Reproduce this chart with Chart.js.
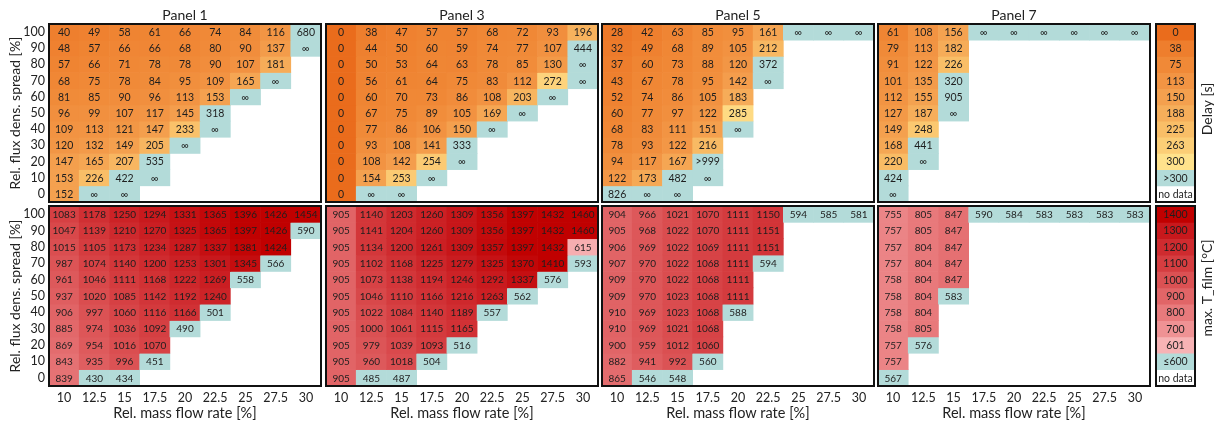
<!DOCTYPE html>
<html>
<head>
<meta charset="utf-8">
<script src="https://cdn.jsdelivr.net/npm/chart.js@4.4.1/dist/chart.umd.min.js"></script>
<style>
  html, body { margin: 0; padding: 0; background: #fff; }
  #wrap { position: relative; width: 1220px; height: 426px; overflow: hidden; background: #fff; }
  #wrap canvas { position: absolute; }
</style>
</head>
<body>
<div id="wrap"></div>
<script>
// ---- data -------------------------------------------------------------
const massFlowRate = ['10', '12.5', '15', '17.5', '20', '22.5', '25', '27.5', '30'];
const fluxSpread = [100, 90, 80, 70, 60, 50, 40, 30, 20, 10, 0];
const panelTitles = ['Panel 1', 'Panel 3', 'Panel 5', 'Panel 7'];

const INF = Infinity;   // printed as "∞"
const OVER = 1000;      // printed as ">999"
const _ = null;         // no data

// Delay [s], rows = flux spread 100..0, columns = mass flow rate 10..30
const delay1 = [
  [40, 49, 58, 61, 66, 74, 84, 116, 680],
  [48, 57, 66, 66, 68, 80, 90, 137, INF],
  [57, 66, 71, 78, 78, 90, 107, 181, _],
  [68, 75, 78, 84, 95, 109, 165, INF, _],
  [81, 85, 90, 96, 113, 153, INF, _, _],
  [96, 99, 107, 117, 145, 318, _, _, _],
  [109, 113, 121, 147, 233, INF, _, _, _],
  [120, 132, 149, 205, INF, _, _, _, _],
  [147, 165, 207, 535, _, _, _, _, _],
  [153, 226, 422, INF, _, _, _, _, _],
  [152, INF, INF, _, _, _, _, _, _]
];
const delay3 = [
  [0, 38, 47, 57, 57, 68, 72, 93, 196],
  [0, 44, 50, 60, 59, 74, 77, 107, 444],
  [0, 50, 53, 64, 63, 78, 85, 130, INF],
  [0, 56, 61, 64, 75, 83, 112, 272, INF],
  [0, 60, 70, 73, 86, 108, 203, INF, _],
  [0, 67, 75, 89, 105, 169, INF, _, _],
  [0, 77, 86, 106, 150, INF, _, _, _],
  [0, 93, 108, 141, 333, _, _, _, _],
  [0, 108, 142, 254, INF, _, _, _, _],
  [0, 154, 253, INF, _, _, _, _, _],
  [0, INF, INF, _, _, _, _, _, _]
];
const delay5 = [
  [28, 42, 63, 85, 95, 161, INF, INF, INF],
  [32, 49, 68, 89, 105, 212, _, _, _],
  [37, 60, 73, 88, 120, 372, _, _, _],
  [43, 67, 78, 95, 142, INF, _, _, _],
  [52, 74, 86, 105, 183, _, _, _, _],
  [60, 77, 97, 122, 285, _, _, _, _],
  [68, 83, 111, 151, INF, _, _, _, _],
  [78, 93, 122, 216, _, _, _, _, _],
  [94, 117, 167, OVER, _, _, _, _, _],
  [122, 173, 482, INF, _, _, _, _, _],
  [826, INF, INF, _, _, _, _, _, _]
];
const delay7 = [
  [61, 108, 156, INF, INF, INF, INF, INF, INF],
  [79, 113, 182, _, _, _, _, _, _],
  [91, 122, 226, _, _, _, _, _, _],
  [101, 135, 320, _, _, _, _, _, _],
  [112, 155, 905, _, _, _, _, _, _],
  [127, 187, INF, _, _, _, _, _, _],
  [149, 248, _, _, _, _, _, _, _],
  [168, 441, _, _, _, _, _, _, _],
  [220, INF, _, _, _, _, _, _, _],
  [424, _, _, _, _, _, _, _, _],
  [INF, _, _, _, _, _, _, _, _]
];

// max. T_film [°C]
const temp1 = [
  [1083, 1178, 1250, 1294, 1331, 1365, 1396, 1426, 1454],
  [1047, 1139, 1210, 1270, 1325, 1365, 1397, 1426, 590],
  [1015, 1105, 1173, 1234, 1287, 1337, 1381, 1424, _],
  [987, 1074, 1140, 1200, 1253, 1301, 1345, 566, _],
  [961, 1046, 1111, 1168, 1222, 1269, 558, _, _],
  [937, 1020, 1085, 1142, 1192, 1240, _, _, _],
  [906, 997, 1060, 1116, 1166, 501, _, _, _],
  [885, 974, 1036, 1092, 490, _, _, _, _],
  [869, 954, 1016, 1070, _, _, _, _, _],
  [843, 935, 996, 451, _, _, _, _, _],
  [839, 430, 434, _, _, _, _, _, _]
];
const temp3 = [
  [905, 1140, 1203, 1260, 1309, 1356, 1397, 1432, 1460],
  [905, 1141, 1204, 1260, 1309, 1356, 1397, 1432, 1460],
  [905, 1134, 1200, 1261, 1309, 1357, 1397, 1432, 615],
  [905, 1102, 1168, 1225, 1279, 1325, 1370, 1410, 593],
  [905, 1073, 1138, 1194, 1246, 1292, 1337, 576, _],
  [905, 1046, 1110, 1166, 1216, 1263, 562, _, _],
  [905, 1022, 1084, 1140, 1189, 557, _, _, _],
  [905, 1000, 1061, 1115, 1165, _, _, _, _],
  [905, 979, 1039, 1093, 516, _, _, _, _],
  [905, 960, 1018, 504, _, _, _, _, _],
  [905, 485, 487, _, _, _, _, _, _]
];
const temp5 = [
  [904, 966, 1021, 1070, 1111, 1150, 594, 585, 581],
  [905, 968, 1022, 1070, 1111, 1151, _, _, _],
  [906, 969, 1022, 1069, 1111, 1151, _, _, _],
  [907, 970, 1022, 1068, 1111, 594, _, _, _],
  [909, 970, 1022, 1068, 1111, _, _, _, _],
  [909, 970, 1023, 1068, 1111, _, _, _, _],
  [910, 969, 1023, 1068, 588, _, _, _, _],
  [910, 969, 1021, 1068, _, _, _, _, _],
  [900, 959, 1012, 1060, _, _, _, _, _],
  [882, 941, 992, 560, _, _, _, _, _],
  [865, 546, 548, _, _, _, _, _, _]
];
const temp7 = [
  [755, 805, 847, 590, 584, 583, 583, 583, 583],
  [757, 805, 847, _, _, _, _, _, _],
  [757, 804, 847, _, _, _, _, _, _],
  [757, 804, 847, _, _, _, _, _, _],
  [758, 804, 847, _, _, _, _, _, _],
  [758, 804, 583, _, _, _, _, _, _],
  [758, 804, _, _, _, _, _, _, _],
  [758, 805, _, _, _, _, _, _, _],
  [757, 576, _, _, _, _, _, _, _],
  [757, _, _, _, _, _, _, _, _],
  [567, _, _, _, _, _, _, _, _]
];

// colour keys
const delayLegendLabels = ['0', '38', '75', '113', '150', '188', '225', '263', '300', '>300', 'no data'];
const delayLegendValues = [0, 37.5, 75, 112.5, 150, 187.5, 225, 262.5, 300, INF, _];
const tempLegendLabels = ['1400', '1300', '1200', '1100', '1000', '900', '800', '700', '601', '≤600', 'no data'];
const tempLegendValues = [1400, 1300, 1200, 1100, 1000, 900, 800, 700, 601, 600, _];

// ---- colour scales -----------------------------------------------------
const TEAL = '#B3DBD9';
const delayStops = [0, 37.5, 75, 112.5, 150, 187.5, 225, 262.5, 300];
const delayColors = ['#EA6C1C', '#EE7E2D', '#F08937', '#F29443', '#F4A04E', '#F6AE5A', '#F9BE67', '#FCCE76', '#FFE28C'];
const tempStops = [601, 700, 800, 900, 1000, 1100, 1200, 1300, 1400];
const tempColors = ['#F7B3B5', '#EF9294', '#E87A7C', '#E16567', '#DB5153', '#D53D40', '#CF2B2F', '#C8181C', '#C00000'];

function hexRgb(h) { return [1, 3, 5].map(i => parseInt(h.substr(i, 2), 16)); }
function ramp(stops, colors, v) {
  if (v <= stops[0]) return colors[0];
  for (let k = 1; k < stops.length; k++) {
    if (v <= stops[k]) {
      const t = (v - stops[k - 1]) / (stops[k] - stops[k - 1]);
      const a = hexRgb(colors[k - 1]), b = hexRgb(colors[k]);
      const c = a.map((x, i) => Math.round(x + (b[i] - x) * t));
      return `rgb(${c[0]},${c[1]},${c[2]})`;
    }
  }
  return colors[colors.length - 1];
}
function delayColor(v) { if (v === null) return '#ffffff'; if (v > 300) return TEAL; return ramp(delayStops, delayColors, v); }
function tempColor(v) { if (v === null) return '#ffffff'; if (v <= 600) return TEAL; return ramp(tempStops, tempColors, v); }
function delayText(v) { if (v === null) return null; if (v === INF) return '∞'; if (v === OVER) return '>999'; return String(v); }
function tempText(v) { return v === null ? null : String(v); }

// ---- drawing helpers ---------------------------------------------------
Chart.defaults.font.family = 'Lato, "Open Sans", sans-serif';
Chart.defaults.color = '#222';

const wrap = document.getElementById('wrap');
function addCanvas(left, top, w, h) {
  const c = document.createElement('canvas');
  c.width = w; c.height = h;
  c.style.left = left + 'px'; c.style.top = top + 'px';
  c.style.width = w + 'px'; c.style.height = h + 'px';
  wrap.appendChild(c);
  return c;
}

const framePlugin = {
  id: 'frame',
  afterDraw(chart) {
    const { ctx, chartArea: a } = chart;
    ctx.save();
    ctx.lineWidth = 2;
    ctx.strokeStyle = '#111';
    ctx.strokeRect(a.left, a.top, a.right - a.left, a.bottom - a.top);
    ctx.restore();
  }
};

function cellLabels(texts, size) {
  return {
    id: 'cellLabels',
    afterDatasetsDraw(chart) {
      const ctx = chart.ctx;
      ctx.save();
      ctx.font = `${size}px Lato, "Open Sans", sans-serif`;
      ctx.fillStyle = '#1e1e1e';
      ctx.textAlign = 'center';
      ctx.textBaseline = 'middle';
      chart.data.datasets.forEach((ds, i) => {
        chart.getDatasetMeta(i).data.forEach((el, j) => {
          const t = texts[i][j];
          if (t === null || t === undefined) return;
          ctx.fillText(t, el.x, (el.y + el.base) / 2 + 0.5);
        });
      });
      ctx.restore();
    }
  };
}

function sideTitle(text, x, y) {
  return {
    id: 'sideTitle',
    afterDraw(chart) {
      const ctx = chart.ctx;
      ctx.save();
      ctx.translate(x, y);
      ctx.rotate(-Math.PI / 2);
      ctx.font = '14px Lato, "Open Sans", sans-serif';
      ctx.fillStyle = '#222';
      ctx.textAlign = 'center';
      ctx.textBaseline = 'middle';
      ctx.fillText(text, 0, 0);
      ctx.restore();
    }
  };
}

function rowDatasets(matrix, rowPos, half, colorOf, keepEmpty) {
  return matrix.map((row, i) => ({
    data: row.map(v => (v === null && !keepEmpty) ? null : [rowPos[i] - half, rowPos[i] + half]),
    backgroundColor: row.map(colorOf),
    borderWidth: 0,
    grouped: false,
    barPercentage: 1,
    categoryPercentage: 1
  }));
}

function axisScales(showX, showY, yMin, yMax, yTicks) {
  return {
    x: {
      type: 'category', offset: true, display: showX,
      grid: { display: false, drawTicks: false }, border: { display: false },
      ticks: { padding: 4, font: { size: 12.5 }, color: '#222', maxRotation: 0, autoSkip: false },
      title: { display: true, text: 'Rel. mass flow rate [%]', font: { size: 14.5 }, color: '#222', padding: { top: 0, bottom: 4 } },
      afterFit(s) {
        if (showX) s.height = 40;
        s.paddingLeft = 0; s.paddingRight = 0;
      }
    },
    y: {
      type: 'linear', min: yMin, max: yMax, display: showY,
      grid: { display: false, drawTicks: false }, border: { display: false },
      ticks: { padding: 4, font: { size: 12.5 }, color: '#222', autoSkip: false },
      afterBuildTicks(s) { s.ticks = yTicks.map(v => ({ value: v })); },
      title: { display: true, text: 'Rel. flux dens. spread [%]', font: { size: 14 }, color: '#222', padding: { top: 7, bottom: 0 } },
      afterFit(s) {
        if (showY) s.width = 49;
        s.paddingTop = 0; s.paddingBottom = 0;
      }
    }
  };
}

function baseOptions(padding, scales, title) {
  return {
    responsive: false, animation: false, devicePixelRatio: 1, events: [],
    layout: { padding },
    plugins: {
      legend: { display: false },
      tooltip: { enabled: false },
      title: {
        display: !!title, text: title || '', fullSize: false, color: '#222',
        font: { size: 14, weight: 'normal', lineHeight: 1 },
        padding: { top: 8, bottom: 2 }
      }
    },
    scales
  };
}

// ---- layout ------------------------------------------------------------
const panelLeft = [49, 326, 602, 878];
const panelW = 272;
const delayData = [delay1, delay3, delay5, delay7];
const tempData = [temp1, temp3, temp5, temp7];

panelLeft.forEach((left, p) => {
  const first = p === 0;
  const cLeft = first ? 0 : left - 2;
  const cW = (first ? 49 : 2) + panelW + 2;
  const padX = { left: first ? 0 : 2, right: 2 };

  // delay heatmap
  const topCanvas = addCanvas(cLeft, 0, cW, 204);
  new Chart(topCanvas, {
    type: 'bar',
    data: { labels: massFlowRate, datasets: rowDatasets(delayData[p], fluxSpread, 5, delayColor, false) },
    options: baseOptions({ ...padX, top: 0, bottom: 2 }, axisScales(false, first, -5, 105, fluxSpread), panelTitles[p]),
    plugins: [cellLabels(delayData[p].map(r => r.map(delayText)), 10.5), framePlugin]
  });

  // film temperature heatmap
  const botCanvas = addCanvas(cLeft, 204, cW, 222);
  new Chart(botCanvas, {
    type: 'bar',
    data: { labels: massFlowRate, datasets: rowDatasets(tempData[p], fluxSpread, 5, tempColor, false) },
    options: baseOptions({ ...padX, top: 2, bottom: 0 }, axisScales(true, first, -5, 105, fluxSpread), null),
    plugins: [cellLabels(tempData[p].map(r => r.map(tempText)), 10), framePlugin]
  });
});

// colour keys on the right
const keyRows = delayLegendLabels.map((_, i) => 10 - i);
function keyChart(canvas, values, labels, colorOf, padding, titleText, tx, ty) {
  new Chart(canvas, {
    type: 'bar',
    data: { labels: [''], datasets: rowDatasets(values.map(v => [v]), keyRows, 0.5, colorOf, true) },
    options: baseOptions(padding, axisScales(false, false, -0.5, 10.5, []), null),
    plugins: [cellLabels(labels.map(t => [t]), 10.5), framePlugin, sideTitle(titleText, tx, ty)]
  });
}
keyChart(addCanvas(1154, 0, 66, 204), delayLegendValues, delayLegendLabels, delayColor,
  { left: 2, right: 25, top: 24, bottom: 2 }, 'Delay [s]', 53, 109);
keyChart(addCanvas(1154, 204, 66, 222), tempLegendValues, tempLegendLabels, tempColor,
  { left: 2, right: 25, top: 2, bottom: 40 }, 'max. T_film [°C]', 53, 84);
</script>
</body>
</html>
